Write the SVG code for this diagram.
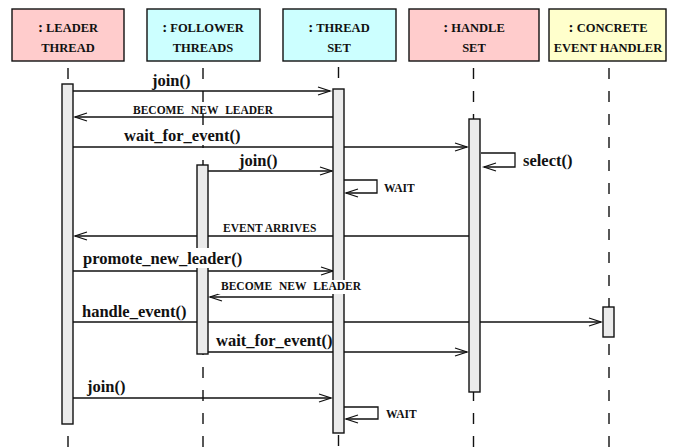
<svg xmlns="http://www.w3.org/2000/svg" width="676" height="448" viewBox="0 0 676 448">
  <defs>
    <marker id="arrow" markerUnits="userSpaceOnUse" markerWidth="16" markerHeight="12" refX="13" refY="5" orient="auto">
      <path d="M1,1 L13,5 L1,9" fill="none" stroke="#111" stroke-width="1.3"/>
    </marker>
    <style>
      .head { stroke: #111; stroke-width: 1.4; }
      .pink { fill: #FFCCCC; }
      .cyan { fill: #CCFFFF; }
      .yellow { fill: #FFFFCC; }
      .htext { font-family: "Liberation Serif", "Times New Roman", serif; font-weight: bold; font-size: 12.5px; text-anchor: middle; fill: #111; }
      .life { stroke: #111; stroke-width: 1.4; stroke-dasharray: 11 12; fill: none; }
      .bar { fill: #EBEBEB; stroke: #111; stroke-width: 1.4; }
      .msg { stroke: #111; stroke-width: 1.3; fill: none; marker-end: url(#arrow); }
      .call { font-family: "Liberation Serif", "Times New Roman", serif; font-weight: bold; font-size: 16.5px; fill: #111; }
      .note { font-family: "Liberation Serif", "Times New Roman", serif; font-weight: bold; font-size: 11.5px; fill: #111; }
      .bg { fill: #FFFFFF; }
    </style>
  </defs>
  <rect width="676" height="448" fill="#FFFFFF"/>

  <!-- message arrows (drawn below the activation bars) -->
  <g id="connectors">
    <line class="msg" x1="73" y1="91" x2="330" y2="91"/>
    <line class="msg" x1="333" y1="117" x2="75" y2="117"/>
    <line class="msg" x1="73" y1="147" x2="467" y2="147"/>
    <line class="msg" x1="208" y1="171" x2="332" y2="171"/>
    <path class="msg" d="M481,153 H515 V167 H484"/>
    <path class="msg" d="M344,180 H377 V193 H346"/>
    <line class="msg" x1="469" y1="236" x2="75" y2="236"/>
    <line class="msg" x1="73" y1="271" x2="333" y2="271"/>
    <line class="msg" x1="333" y1="297" x2="210" y2="297"/>
    <line class="msg" x1="73" y1="322" x2="601" y2="322"/>
    <line class="msg" x1="208" y1="352" x2="467" y2="352"/>
    <line class="msg" x1="73" y1="398" x2="331" y2="398"/>
    <path class="msg" d="M344,407 H378 V419 H346"/>
  </g>

  <!-- participants: header box, lifeline, activation bars -->
  <g id="leader-thread">
    <rect class="head pink" x="12" y="9" width="112" height="52"/>
    <text class="htext" x="68" y="32"><tspan font-size="15">:</tspan> LEADER</text>
    <text class="htext" x="68" y="52">THREAD</text>
    <line class="life" x1="68" y1="68" x2="68" y2="448"/>
    <rect class="bar" x="62" y="84" width="11" height="340"/>
  </g>
  <g id="follower-threads">
    <rect class="head cyan" x="147" y="9" width="113" height="52"/>
    <text class="htext" x="203" y="32"><tspan font-size="15">:</tspan> FOLLOWER</text>
    <text class="htext" x="203" y="52">THREADS</text>
    <line class="life" x1="203" y1="68" x2="203" y2="448"/>
    <rect class="bar" x="197" y="165" width="11" height="189"/>
  </g>
  <g id="thread-set">
    <rect class="head cyan" x="283" y="9" width="113" height="52"/>
    <text class="htext" x="339" y="32"><tspan font-size="15">:</tspan> THREAD</text>
    <text class="htext" x="339" y="52">SET</text>
    <line class="life" x1="338.5" y1="67" x2="338.5" y2="448"/>
    <rect class="bar" x="333" y="89" width="11" height="344"/>
  </g>
  <g id="handle-set">
    <rect class="head pink" x="409" y="9" width="130" height="52"/>
    <text class="htext" x="474" y="32"><tspan font-size="15">:</tspan> HANDLE</text>
    <text class="htext" x="474" y="52">SET</text>
    <line class="life" x1="473.5" y1="68" x2="473.5" y2="448"/>
    <rect class="bar" x="469" y="119" width="11" height="273"/>
  </g>
  <g id="concrete-event-handler">
    <rect class="head yellow" x="549" y="9" width="117" height="52"/>
    <text class="htext" x="608" y="32"><tspan font-size="15">:</tspan> CONCRETE</text>
    <text class="htext" x="608" y="52">EVENT HANDLER</text>
    <line class="life" x1="609" y1="68" x2="609" y2="448"/>
    <rect class="bar" x="603" y="307" width="11" height="30"/>
  </g>

  <!-- message labels -->
  <g id="labels">
    <text class="call" x="152" y="86">join()</text>
    <text class="note" x="133" y="114" word-spacing="4">BECOME NEW LEADER</text>
    <rect class="bg" x="122" y="127" width="124" height="18"/>
    <text class="call" x="124" y="141">wait_for_event()</text>
    <text class="call" x="239" y="166">join()</text>
    <text class="call" x="523" y="166">select()</text>
    <text class="note" x="384" y="192">WAIT</text>
    <text class="note" x="223" y="232">EVENT ARRIVES</text>
    <rect class="bg" x="80" y="248" width="168" height="20"/>
    <text class="call" x="83" y="264">promote_new_leader()</text>
    <rect class="bg" x="218" y="280" width="148" height="14"/>
    <text class="note" x="221" y="290" word-spacing="4">BECOME NEW LEADER</text>
    <text class="call" x="82" y="317">handle_event()</text>
    <text class="call" x="216" y="346">wait_for_event()</text>
    <text class="call" x="87" y="392">join()</text>
    <text class="note" x="386" y="418">WAIT</text>
  </g>
</svg>
